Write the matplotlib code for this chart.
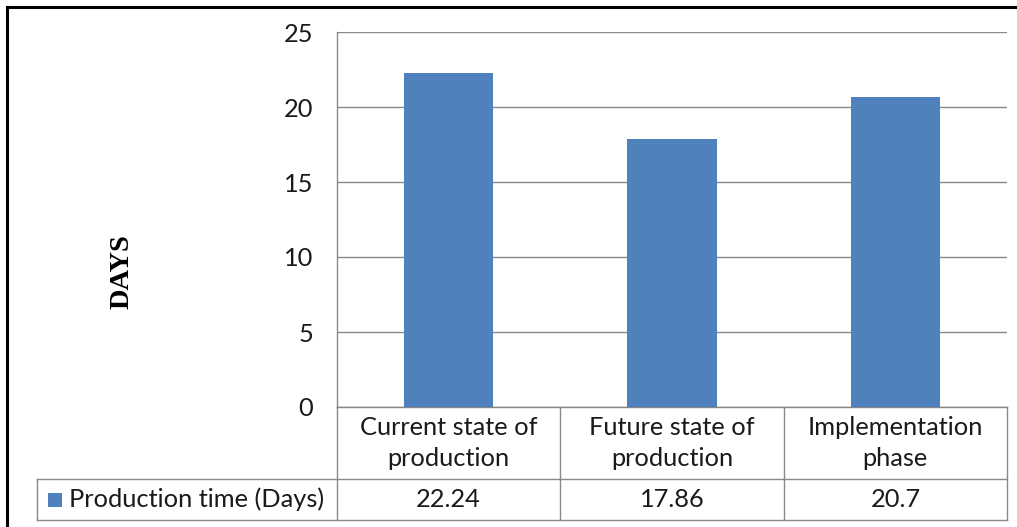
import matplotlib.pyplot as plt
import matplotlib.transforms as mtransforms
from matplotlib.patches import Rectangle
from matplotlib.lines import Line2D

categories = ["Current state of\nproduction", "Future state of\nproduction", "Implementation\nphase"]
values = [22.24, 17.86, 20.7]
value_labels = ["22.24", "17.86", "20.7"]
series_name = "Production time (Days)"
yticks = [0, 5, 10, 15, 20, 25]

bar_color = "#4F81BD"
grid_color = "#898989"
font = ["Lato", "DejaVu Sans"]
fs = 18.3

W, H = 1017, 527
fig = plt.figure(figsize=(W / 100, H / 100), dpi=100)
fig.patch.set_facecolor("white")

# plot area in pixels: left 337, right 1007, top 32, bottom 407
left, right, top, bottom = 337, 1007, 32, 407
ax = fig.add_axes([left / W, (H - bottom) / H, (right - left) / W, (bottom - top) / H])

x = list(range(len(categories)))
ax.bar(x, values, width=0.4, color=bar_color, zorder=3)
ax.set_xlim(-0.5, len(categories) - 0.5)
ax.set_ylim(0, 25)
ax.set_yticks(yticks)
ax.set_yticklabels([str(t) for t in yticks], fontsize=fs, family=font, color="#1a1a1a")
ax.tick_params(axis="y", length=0, pad=17)
ax.set_xticks([])
ax.grid(axis="y", color=grid_color, linewidth=1.0, zorder=0)
for s in ["top", "right", "bottom"]:
    ax.spines[s].set_visible(False)
ax.spines["left"].set_color(grid_color)
ax.spines["left"].set_linewidth(1.0)

# data table below the plot
row1 = (bottom - 479) / (bottom - top)
row2 = (bottom - 520) / (bottom - top)
legend_left = -0.5 + (37 - left) / ((right - left) / 3)
tr = mtransforms.blended_transform_factory(ax.transData, ax.transAxes)

def hline(x0, x1, y):
    ax.add_line(Line2D([x0, x1], [y, y], transform=tr, color=grid_color, lw=1.0, clip_on=False))

def vline(xv, y0, y1):
    ax.add_line(Line2D([xv, xv], [y0, y1], transform=tr, color=grid_color, lw=1.0, clip_on=False))

hline(-0.5, 2.5, 0)
hline(legend_left, 2.5, row1)
hline(legend_left, 2.5, row2)
for xv in [-0.5, 0.5, 1.5, 2.5]:
    vline(xv, 0, row2)
vline(legend_left, row1, row2)

for i, (c, v) in enumerate(zip(categories, value_labels)):
    ax.text(i, row1 / 2, c, transform=tr, ha="center", va="center", fontsize=fs,
            family=font, color="#1a1a1a", linespacing=1.42)
    ax.text(i, (row1 + row2) / 2, v, transform=tr, ha="center", va="center",
            fontsize=fs, family=font, color="#1a1a1a")

# legend key in table
key_w = 14 / ((right - left) / 3)
key_h = 14 / (bottom - top)
key_x = -0.5 + (48 - left) / ((right - left) / 3)
ymid = (row1 + row2) / 2
ax.add_patch(Rectangle((key_x, ymid - key_h / 2), key_w, key_h, transform=tr,
                       facecolor=bar_color, edgecolor="none", clip_on=False))
ax.text(-0.5 + (69 - left) / ((right - left) / 3), ymid, series_name, transform=tr,
        ha="left", va="center", fontsize=fs, family=font, color="#1a1a1a")

# y-axis title
fig.text(122 / W, (H - 272) / H, "DAYS", rotation=90, ha="center", va="center",
         fontsize=20.5, fontweight="bold", family=["Liberation Serif", "DejaVu Serif"])

# outer frame (left and top edges)
fig.add_artist(Line2D([7 / W, 7 / W], [0, (H - 7) / H], transform=fig.transFigure,
                      color="black", lw=2.2))
fig.add_artist(Line2D([7 / W, 1], [(H - 7) / H, (H - 7) / H], transform=fig.transFigure,
                      color="black", lw=2.2))

fig.savefig("out.png", dpi=100)
